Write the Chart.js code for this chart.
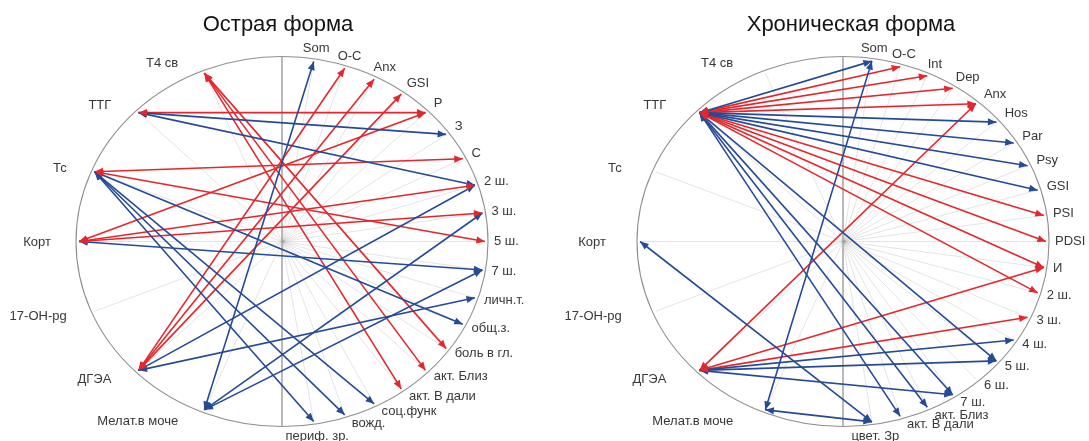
<!DOCTYPE html>
<html>
<head>
<meta charset="utf-8">
<script src="https://cdn.jsdelivr.net/npm/chart.js@4.4.0/dist/chart.umd.min.js"></script>
<style>
  html, body { margin: 0; padding: 0; background: #fff; }
  .wrap { display: flex; width: 1089px; height: 441px; }
  canvas { display: block; }
</style>
</head>
<body>
<div class="wrap">
  <canvas id="acute" width="545" height="441"></canvas>
  <canvas id="chronic" width="544" height="441"></canvas>
</div>
<script>
// Hormones sit on the left half of each circle, clinical scales on the right half.
const hormones = ['Т4 св', 'ТТГ', 'Тс', 'Корт', '17-ОН-pg', 'ДГЭА', 'Мелат.в моче'];

const acuteParams = ['Som', 'O-C', 'Anx', 'GSI', 'Р', 'З', 'С', '2 ш.', '3 ш.', '5 ш.', '7 ш.',
  'личн.т.', 'общ.з.', 'боль в гл.', 'акт. Близ', 'акт. В дали', 'соц.функ', 'вожд.', 'периф. зр.'];

// Positive (red) and negative (blue) links: [hormone, scale]
const acutePositive = [
  ['ТТГ', 'Р'], ['Корт', 'Р'], ['Корт', '2 ш.'], ['Корт', '3 ш.'],
  ['Тс', 'С'], ['Тс', '5 ш.'],
  ['Т4 св', 'боль в гл.'], ['Т4 св', 'акт. Близ'], ['Т4 св', 'акт. В дали'],
  ['ДГЭА', 'O-C'], ['ДГЭА', 'Anx'], ['ДГЭА', 'GSI']
];
const acuteNegative = [
  ['Мелат.в моче', 'Som'], ['ТТГ', 'З'], ['ТТГ', '2 ш.'], ['Корт', '7 ш.'],
  ['Тс', 'общ.з.'], ['Тс', 'соц.функ'], ['Тс', 'вожд.'], ['Тс', 'периф. зр.'],
  ['ДГЭА', '2 ш.'], ['ДГЭА', 'личн.т.'], ['Мелат.в моче', '3 ш.'], ['Мелат.в моче', '7 ш.']
];

const chronicParams = ['Som', 'O-C', 'Int', 'Dep', 'Anx', 'Hos', 'Par', 'Psy', 'GSI', 'PSI', 'PDSI',
  'И', '2 ш.', '3 ш.', '4 ш.', '5 ш.', '6 ш.', '7 ш.', 'акт. Близ', 'акт. В дали', 'цвет. Зр'];

const chronicPositive = [
  ['ТТГ', 'O-C'], ['ТТГ', 'Int'], ['ТТГ', 'Dep'], ['ТТГ', 'Anx'],
  ['ТТГ', 'PSI'], ['ТТГ', 'PDSI'], ['ТТГ', 'И'], ['ТТГ', '2 ш.'],
  ['ДГЭА', 'Anx'], ['ДГЭА', 'И'], ['ДГЭА', '3 ш.']
];
const chronicNegative = [
  ['ТТГ', 'Som'], ['ТТГ', 'Hos'], ['ТТГ', 'Par'], ['ТТГ', 'Psy'], ['ТТГ', 'GSI'],
  ['ТТГ', '5 ш.'], ['ТТГ', '7 ш.'], ['ТТГ', 'акт. Близ'], ['ТТГ', 'акт. В дали'],
  ['ДГЭА', '4 ш.'], ['ДГЭА', '5 ш.'], ['ДГЭА', '7 ш.'],
  ['Корт', 'цвет. Зр'], ['Мелат.в моче', 'цвет. Зр'], ['Мелат.в моче', 'Som']
];

const RED = '#e5262c';
const BLUE = '#254a96';
const SPOKE = 'rgba(0,0,0,0.11)';
const AXIS = '#a8a8a8';
const RIM = '#8e8e8e';
const FONT = '"Liberation Sans", Arial, sans-serif';
const END_R = 0.985;          // link ends sit just inside the rim

// Pixel radii of the (slightly flattened) circle and its vertical centre
const RX = 206, RY = 185, CY = 241.5;

// Angular positions (degrees) of every node on the rim
function layoutNodes(params) {
  const nodes = [];
  hormones.forEach((name, i) => nodes.push({ name, deg: 90 + 180 * (i + 1) / (hormones.length + 1) }));
  params.forEach((name, j) => nodes.push({ name, deg: 90 - 180 * (j + 1) / (params.length + 1) }));
  return nodes;
}
function pointAt(deg, r) {
  const a = deg * Math.PI / 180;
  return { x: r * Math.cos(a), y: r * Math.sin(a) };
}

// Ellipse outline of the diagram
const rimPlugin = {
  id: 'rim',
  beforeDatasetsDraw(chart) {
    const { ctx, scales: { x, y } } = chart;
    const cx = x.getPixelForValue(0), cy = y.getPixelForValue(0);
    const rx = x.getPixelForValue(1) - cx, ry = cy - y.getPixelForValue(1);
    ctx.save();
    ctx.beginPath();
    ctx.ellipse(cx, cy, rx, ry, 0, 0, Math.PI * 2);
    ctx.strokeStyle = RIM;
    ctx.lineWidth = 1.1;
    ctx.stroke();
    ctx.restore();
  }
};

// Arrow heads at both ends of every link
const arrowPlugin = {
  id: 'arrows',
  afterDatasetsDraw(chart) {
    const ctx = chart.ctx;
    chart.data.datasets.forEach((ds, i) => {
      if (!ds.link) return;
      const pts = chart.getDatasetMeta(i).data;
      if (pts.length < 2) return;
      head(ctx, pts[1], pts[0], ds.borderColor);
      head(ctx, pts[0], pts[1], ds.borderColor);
    });
  }
};
function head(ctx, from, to, color) {
  const L = 8.5, W = 3.6;
  const a = Math.atan2(to.y - from.y, to.x - from.x);
  const bx = to.x - L * Math.cos(a), by = to.y - L * Math.sin(a);
  ctx.save();
  ctx.beginPath();
  ctx.moveTo(to.x, to.y);
  ctx.lineTo(bx + W * Math.sin(a), by - W * Math.cos(a));
  ctx.lineTo(bx - W * Math.sin(a), by + W * Math.cos(a));
  ctx.closePath();
  ctx.fillStyle = color;
  ctx.fill();
  ctx.restore();
}

// Title and node names around the rim
const textPlugin = {
  id: 'circleText',
  afterDraw(chart, args, opts) {
    const { ctx, scales: { x, y } } = chart;
    ctx.save();
    ctx.fillStyle = '#141414';
    ctx.font = '22px ' + FONT;
    ctx.textAlign = 'center';
    ctx.textBaseline = 'alphabetic';
    ctx.fillText(opts.title, x.getPixelForValue(0) + opts.titleShift, 31);

    ctx.font = '13px ' + FONT;
    ctx.fillStyle = '#383838';
    ctx.textBaseline = 'middle';
    opts.nodes.forEach(n => {
      const p = pointAt(n.deg, 1);
      const px = x.getPixelForValue(p.x), py = y.getPixelForValue(p.y);
      const s = Math.sin(n.deg * Math.PI / 180);
      const w = ctx.measureText(n.name).width;
      if (Math.cos(n.deg * Math.PI / 180) < -0.01) {
        ctx.textAlign = 'right';
        ctx.fillText(n.name, px - opts.leftGap, py - 9 * s + 1);
      } else if (n.deg < -78) {
        ctx.textAlign = 'center';
        ctx.fillText(n.name, px + 3, py + 12);
      } else {
        ctx.textAlign = 'left';
        const f = Math.min(1, Math.max(0, (n.deg - 50) / 25));
        const dy = s > 0 ? -10 * s : -6 * s;
        ctx.fillText(n.name, px + 6 - f * (w / 2 + 4), py + dy);
      }
    });
    ctx.restore();
  }
};

function buildChart(id, title, titleShift, leftGap, centerX, params, positive, negative) {
  const canvas = document.getElementById(id);
  const W = canvas.width, H = canvas.height;
  const nodes = layoutNodes(params);
  const deg = {};
  nodes.forEach(n => { deg[n.name] = n.deg; });

  const datasets = [];
  nodes.forEach(n => datasets.push({
    data: [{ x: 0, y: 0 }, pointAt(n.deg, END_R)],
    borderColor: SPOKE, borderWidth: 1, order: 3
  }));
  datasets.push({
    data: [{ x: 0, y: 1 }, { x: 0, y: -1 }],
    borderColor: AXIS, borderWidth: 1.6, order: 2
  });
  const addLinks = (list, color) => list.forEach(([h, p]) => datasets.push({
    data: [pointAt(deg[h], END_R), pointAt(deg[p], END_R)],
    borderColor: color, borderWidth: 1.6, order: 1, link: true
  }));
  addLinks(negative, BLUE);
  addLinks(positive, RED);
  datasets.forEach(d => { d.showLine = true; d.pointRadius = 0; d.fill = false; });

  return new Chart(canvas, {
    type: 'scatter',
    data: { datasets },
    options: {
      responsive: false,
      animation: false,
      devicePixelRatio: 1,
      events: [],
      layout: { padding: 0 },
      elements: { line: { tension: 0 }, point: { radius: 0 } },
      plugins: {
        legend: { display: false },
        tooltip: { enabled: false },
        title: { display: false },
        circleText: { title, titleShift, leftGap, nodes }
      },
      scales: {
        x: { type: 'linear', display: false, bounds: 'data', min: -centerX / RX, max: (W - centerX) / RX },
        y: { type: 'linear', display: false, bounds: 'data', min: -(H - CY) / RY, max: CY / RY }
      }
    },
    plugins: [rimPlugin, arrowPlugin, textPlugin]
  });
}

buildChart('acute', 'Острая форма', -4, 25, 282, acuteParams, acutePositive, acuteNegative);
buildChart('chronic', 'Хроническая форма', 8, 31, 298, chronicParams, chronicPositive, chronicNegative);
</script>
</body>
</html>
